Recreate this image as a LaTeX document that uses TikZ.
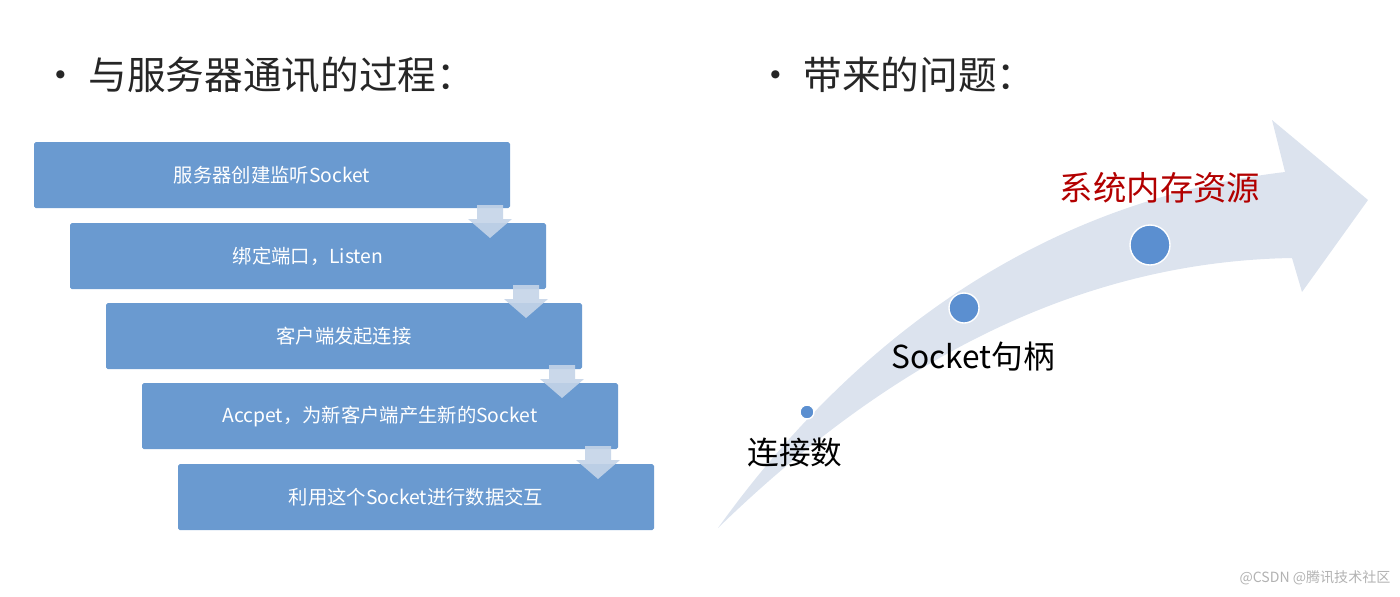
\documentclass[tikz,border=0pt]{standalone}
\usepackage{fontspec}
\setmainfont{Noto Sans CJK SC}
\begin{document}
\begin{tikzpicture}[x=0.02cm,y=-0.02cm,
 box/.style={draw=none,fill=boxblue,minimum width=476*0.02cm,minimum height=66*0.02cm,text=white,font=\fontsize{11}{13}\selectfont,rounded corners=1pt},
 dot/.style={circle,fill=dotblue,draw=white,line width=0.8pt,inner sep=0pt}]
\definecolor{boxblue}{HTML}{6A9AD0}
\definecolor{arrblue}{HTML}{C4D4E8}
\definecolor{dotblue}{HTML}{5B8FD0}
\definecolor{bigarr}{HTML}{DCE3EE}
\useasboundingbox (0,0) rectangle (1400,596);
\node[anchor=west,font=\fontsize{22}{26}\selectfont,text=black!85] (t1) at (35,75) {• 与服务器通讯的过程：};
\node[anchor=west,font=\fontsize{22}{26}\selectfont,text=black!85] (t2) at (750,75) {• 带来的问题：};
\node[box] (b1) at (272,175) {服务器创建监听Socket};
\node[box] (b2) at (308,256) {绑定端口，Listen};
\node[box] (b3) at (344,336) {客户端发起连接};
\node[box] (b4) at (380,416) {Accpet，为新客户端产生新的Socket};
\node[box] (b5) at (416,497) {利用这个Socket进行数据交互};
% step arrows
\foreach \x/\y in {490/205,526/285,562/365,598/446}{
 \fill[arrblue,opacity=0.9] (\x-13,\y) -- (\x+13,\y) -- (\x+13,\y+14) -- (\x+22,\y+14) -- (\x,\y+33) -- (\x-22,\y+14) -- (\x-13,\y+14) -- cycle;}
% big arrow
\fill[bigarr] (718,528) .. controls (860,330) and (1050,200) .. (1285,172)
 -- (1272,120) -- (1368,200) -- (1302,292) -- (1292,258)
 .. controls (1050,262) and (860,390) .. cycle;
\node[dot,minimum size=14*0.02cm] (d1) at (807,412) {};
\node[dot,minimum size=30*0.02cm] (d2) at (964,308) {};
\node[dot,minimum size=40*0.02cm] (d3) at (1150,245) {};
\node[font=\fontsize{19}{22}\selectfont,text=red!70!black] (l3) at (1160,188) {系统内存资源};
\node[font=\fontsize{18}{22}\selectfont] (l2) at (973,357) {Socket句柄};
\node[font=\fontsize{18}{22}\selectfont] (l1) at (795,453) {连接数};
\node[font=\fontsize{8}{10}\selectfont,text=gray!60] (wm) at (1315,578) {@CSDN @腾讯技术社区};
\end{tikzpicture}
\end{document}
